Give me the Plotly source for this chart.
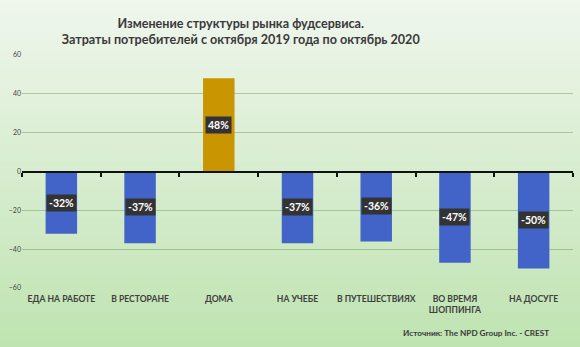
import plotly.graph_objects as go

categories = ["ЕДА НА РАБОТЕ", "В РЕСТОРАНЕ", "ДОМА", "НА УЧЕБЕ",
              "В ПУТЕШЕСТВИЯХ", "ВО ВРЕМЯ<br>ШОППИНГА", "НА ДОСУГЕ"]
values = [-32, -37, 48, -37, -36, -47, -50]
labels = ["-32%", "-37%", "48%", "-37%", "-36%", "-47%", "-50%"]
y_ticks = [-60, -40, -20, 0, 20, 40, 60]

BLUE = "#4264c8"
GOLD = "#c99500"
colors = [GOLD if v > 0 else BLUE for v in values]
FONT = "Lato"

fig = go.Figure()
fig.add_trace(go.Bar(x=categories, y=values, marker=dict(color=colors, line=dict(width=0)),
                     width=0.4, hoverinfo="skip", showlegend=False))

# data label boxes
for c, v, t in zip(categories, values, labels):
    fig.add_annotation(x=c, y=v / 2, text="<b>%s</b>" % t, showarrow=False,
                       font=dict(family=FONT, size=10.5, color="white"),
                       bgcolor="#333333", borderpad=2)

# gradient background via stacked rectangles
top = (241, 247, 239)
bot = (190, 227, 176)
n = 40
shapes = []
for i in range(n):
    f = i / (n - 1)
    col = tuple(int(round(top[k] + (bot[k] - top[k]) * f)) for k in range(3))
    shapes.append(dict(type="rect", xref="paper", yref="paper", layer="below",
                       x0=-0.1, x1=1.1,
                       y1=1 + 0.3 - i * (1.6 / n), y0=1 + 0.3 - (i + 1) * (1.6 / n) - 0.01,
                       fillcolor="rgb(%d,%d,%d)" % col, line=dict(width=0)))

fig.add_annotation(xref="paper", yref="paper", x=0.96, y=-0.195, xanchor="right", yanchor="middle",
                   text="<b>Источник: The NPD Group Inc. - CREST</b>", showarrow=False,
                   font=dict(family=FONT, size=8.2, color="#3a3a3a"))

fig.update_layout(
    width=580, height=347,
    margin=dict(l=22, r=7, t=55, b=59),
    paper_bgcolor="#e6f2e1", plot_bgcolor="rgba(0,0,0,0)",
    shapes=shapes,
    title=dict(text="<b>Изменение структуры рынка фудсервиса.<br>Затраты потребителей с октября 2019 года по октябрь 2020</b>",
               x=0.415, xanchor="center", yref="container", y=0.92, yanchor="top",
               font=dict(family=FONT, size=12.6, color="#3a3a3a")),
    bargap=0.6,
    xaxis=dict(anchor="free", position=0.5, showline=True, linecolor="#111111", linewidth=2,
               ticks="outside", tickson="boundaries", ticklen=4, tickcolor="#111111", tickwidth=1.5,
               ticklabelstandoff=119, tickangle=0, automargin=False,
               tickfont=dict(family=FONT, size=8.6, color="#404040", weight="bold"),
               showgrid=False, zeroline=False),
    yaxis=dict(range=[-60, 60], tickvals=y_ticks, showgrid=True, automargin=False,
               gridcolor="rgba(70,120,60,0.35)", gridwidth=1, zeroline=False,
               tickfont=dict(family=FONT, size=7, color="#444444"),
               ticks="", showline=False),
)

fig.write_html("out.html")
